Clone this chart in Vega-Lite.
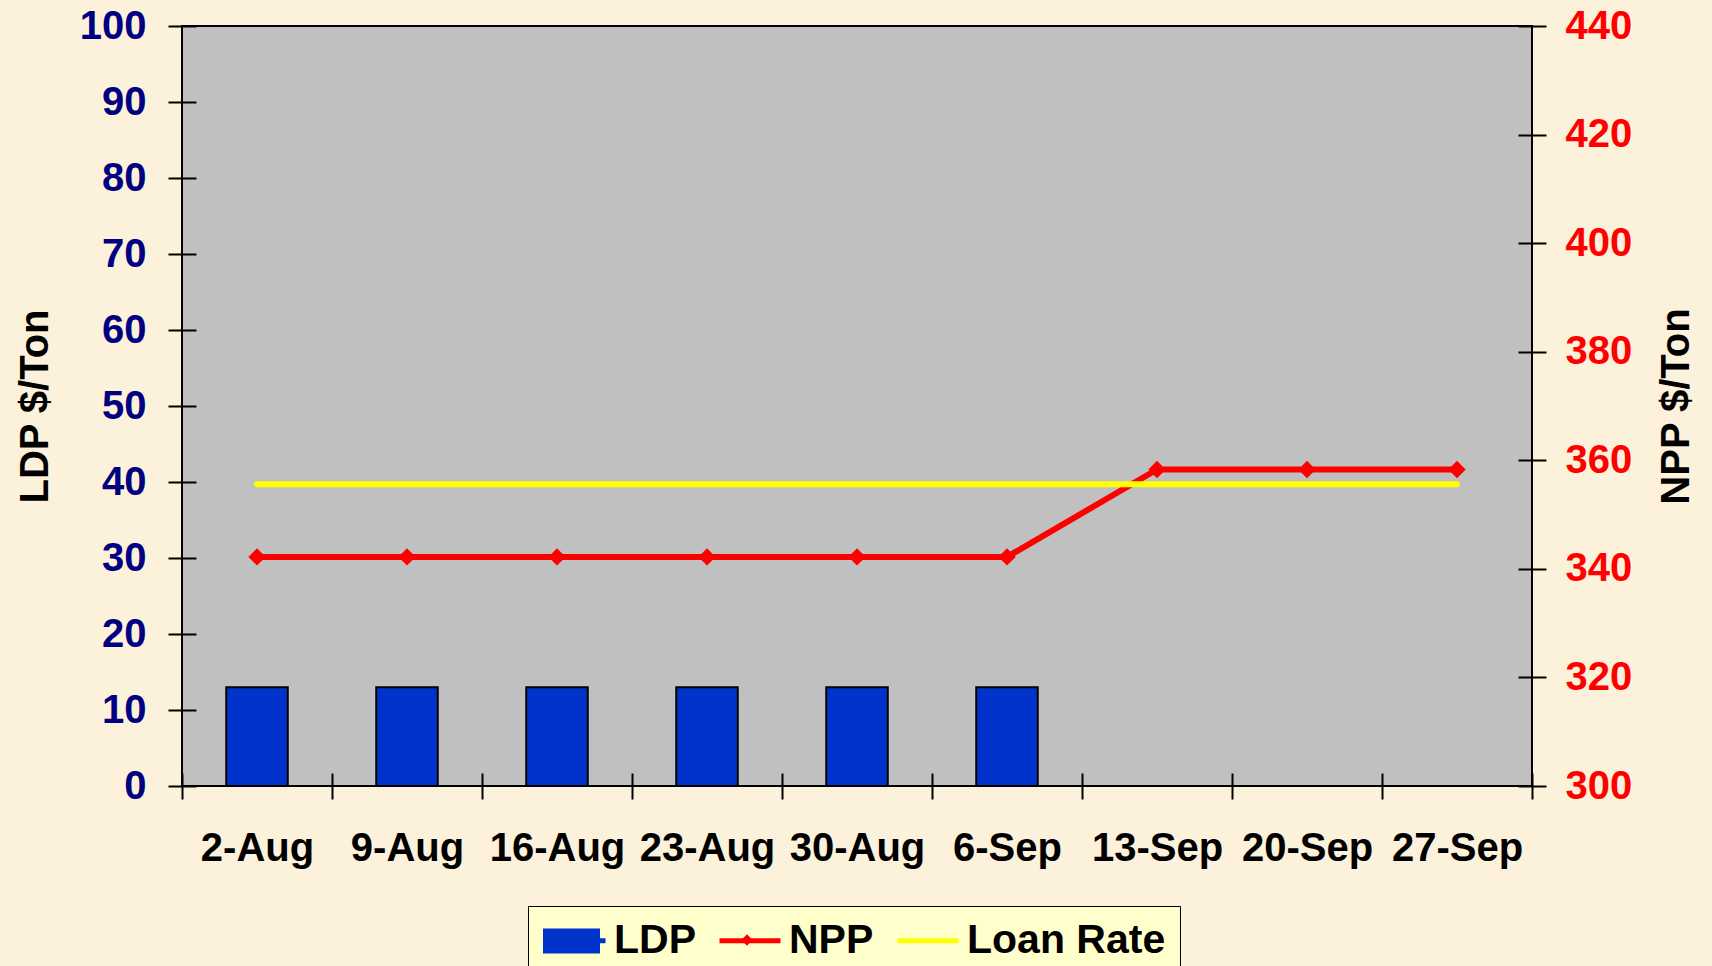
{
  "$schema": "https://vega.github.io/schema/vega-lite/v6.json",
  "width": 1350,
  "height": 760,
  "autosize": {"type": "none"},
  "padding": {"left": 182, "top": 26, "right": 180, "bottom": 180},
  "background": "#FCF1DA",
  "config": {
    "font": "Liberation Sans",
    "view": {"fill": "#C0C0C0", "stroke": "black", "strokeWidth": 2},
    "axis": {
      "grid": false,
      "domain": false,
      "tickColor": "black",
      "tickWidth": 2,
      "labelFontSize": 40,
      "labelFontWeight": "bold",
      "titleFontSize": 40,
      "titleFontWeight": "bold",
      "titleColor": "black"
    },
    "legend": {
      "orient": "none",
      "direction": "horizontal",
      "labelFontSize": 41,
      "labelFont": "Liberation Sans",
      "labelFontWeight": "bold",
      "labelColor": "black",
      "labelLimit": 500
    }
  },
  "data": {
    "values": [
      {"date": "2-Aug", "LDP": 13, "NPP": 342.2, "LoanRate": 355.6},
      {"date": "9-Aug", "LDP": 13, "NPP": 342.2, "LoanRate": 355.6},
      {"date": "16-Aug", "LDP": 13, "NPP": 342.2, "LoanRate": 355.6},
      {"date": "23-Aug", "LDP": 13, "NPP": 342.2, "LoanRate": 355.6},
      {"date": "30-Aug", "LDP": 13, "NPP": 342.2, "LoanRate": 355.6},
      {"date": "6-Sep", "LDP": 13, "NPP": 342.2, "LoanRate": 355.6},
      {"date": "13-Sep", "LDP": 0, "NPP": 358.3, "LoanRate": 355.6},
      {"date": "20-Sep", "LDP": 0, "NPP": 358.3, "LoanRate": 355.6},
      {"date": "27-Sep", "LDP": 0, "NPP": 358.3, "LoanRate": 355.6}
    ]
  },
  "layer": [
    {
      "mark": {"type": "bar", "stroke": "black", "strokeWidth": 2, "width": {"band": 0.41}},
      "encoding": {
        "x": {
          "field": "date",
          "type": "ordinal",
          "scale": {
            "domain": ["2-Aug", "9-Aug", "16-Aug", "23-Aug", "30-Aug", "6-Sep", "13-Sep", "20-Sep", "27-Sep"],
            "paddingInner": 0,
            "paddingOuter": 0
          },
          "axis": {
            "title": null,
            "labelAngle": 0,
            "labelColor": "black",
            "tickBand": "extent",
            "offset": -13,
            "tickSize": 26,
            "labelPadding": 29
          }
        },
        "y": {
          "field": "LDP",
          "type": "quantitative",
          "scale": {"domain": [0, 100], "nice": false},
          "axis": {
            "orient": "left",
            "title": "LDP $/Ton",
            "values": [0, 10, 20, 30, 40, 50, 60, 70, 80, 90, 100],
            "labelColor": "#000080",
            "offset": -14,
            "tickSize": 28,
            "labelPadding": 22,
            "titlePadding": 24
          }
        },
        "color": {
          "datum": "LDP",
          "scale": {
            "domain": ["LDP", "NPP", "Loan Rate"],
            "range": ["#0033CC", "#FF0000", "#FFFF00"]
          },
          "legend": {
            "title": null,
            "legendX": 346,
            "legendY": 880,
            "zindex": 0,
            "fillColor": "#FFFFCC",
            "strokeColor": "black",
            "padding": 14,
            "symbolSize": 1600,
            "symbolType": "M-0.9,-0.13H2.15V0.13H-0.9Z",
            "symbolStrokeWidth": 0,
            "labelOffset": 31,
            "columnPadding": 21
          }
        },
        "opacity": {
          "datum": "LDP",
          "scale": {"domain": ["LDP"], "range": [1]},
          "legend": {
            "title": null,
            "legendX": 346,
            "legendY": 880,
            "zindex": 1,
            "fillColor": "transparent",
            "strokeColor": "transparent",
            "padding": 14,
            "symbolSize": 1600,
            "symbolType": "M-1,-0.625H1.85V0.625H-1Z",
            "symbolFillColor": "#0033CC",
            "symbolStrokeColor": "black",
            "symbolStrokeWidth": 2,
            "symbolOpacity": 1,
            "labelExpr": "''"
          }
        }
      }
    },
    {
      "encoding": {
        "x": {"field": "date", "type": "ordinal"}
      },
      "layer": [
        {
          "mark": {"type": "line", "strokeWidth": 6},
          "encoding": {
            "y": {
              "field": "NPP",
              "type": "quantitative",
              "title": "NPP $/Ton",
              "scale": {"domain": [300, 440], "nice": false},
              "axis": {
                "orient": "right",
                "values": [300, 320, 340, 360, 380, 400, 420, 440],
                "labelColor": "#FF0000",
                "offset": -14,
                "tickSize": 28,
                "labelPadding": 19,
                "titleAngle": 270,
                "titleBaseline": "top",
                "titlePadding": 25
              }
            },
            "color": {"datum": "NPP"}
          }
        },
        {
          "mark": {"type": "point", "filled": true, "size": 300, "opacity": 1},
          "encoding": {
            "y": {"field": "NPP", "type": "quantitative", "title": "NPP $/Ton"},
            "color": {"datum": "NPP"},
            "shape": {
              "datum": "NPP",
              "scale": {"domain": ["NPP"], "range": ["diamond"]},
              "legend": {
                "title": null,
                "legendX": 559,
                "legendY": 908,
                "zindex": 2,
                "fillColor": "transparent",
                "strokeColor": "transparent",
                "padding": 0,
                "symbolSize": 130,
                "symbolFillColor": "#FF0000",
                "symbolStrokeWidth": 0,
                "symbolOpacity": 1,
                "labelFontSize": 1,
                "labelOffset": 0,
                "labelExpr": "''"
              }
            }
          }
        },
        {
          "mark": {"type": "line", "strokeWidth": 6, "strokeCap": "round"},
          "encoding": {
            "y": {"field": "LoanRate", "type": "quantitative", "title": "NPP $/Ton"},
            "color": {"datum": "Loan Rate"}
          }
        }
      ]
    }
  ],
  "resolve": {"scale": {"y": "independent"}}
}
